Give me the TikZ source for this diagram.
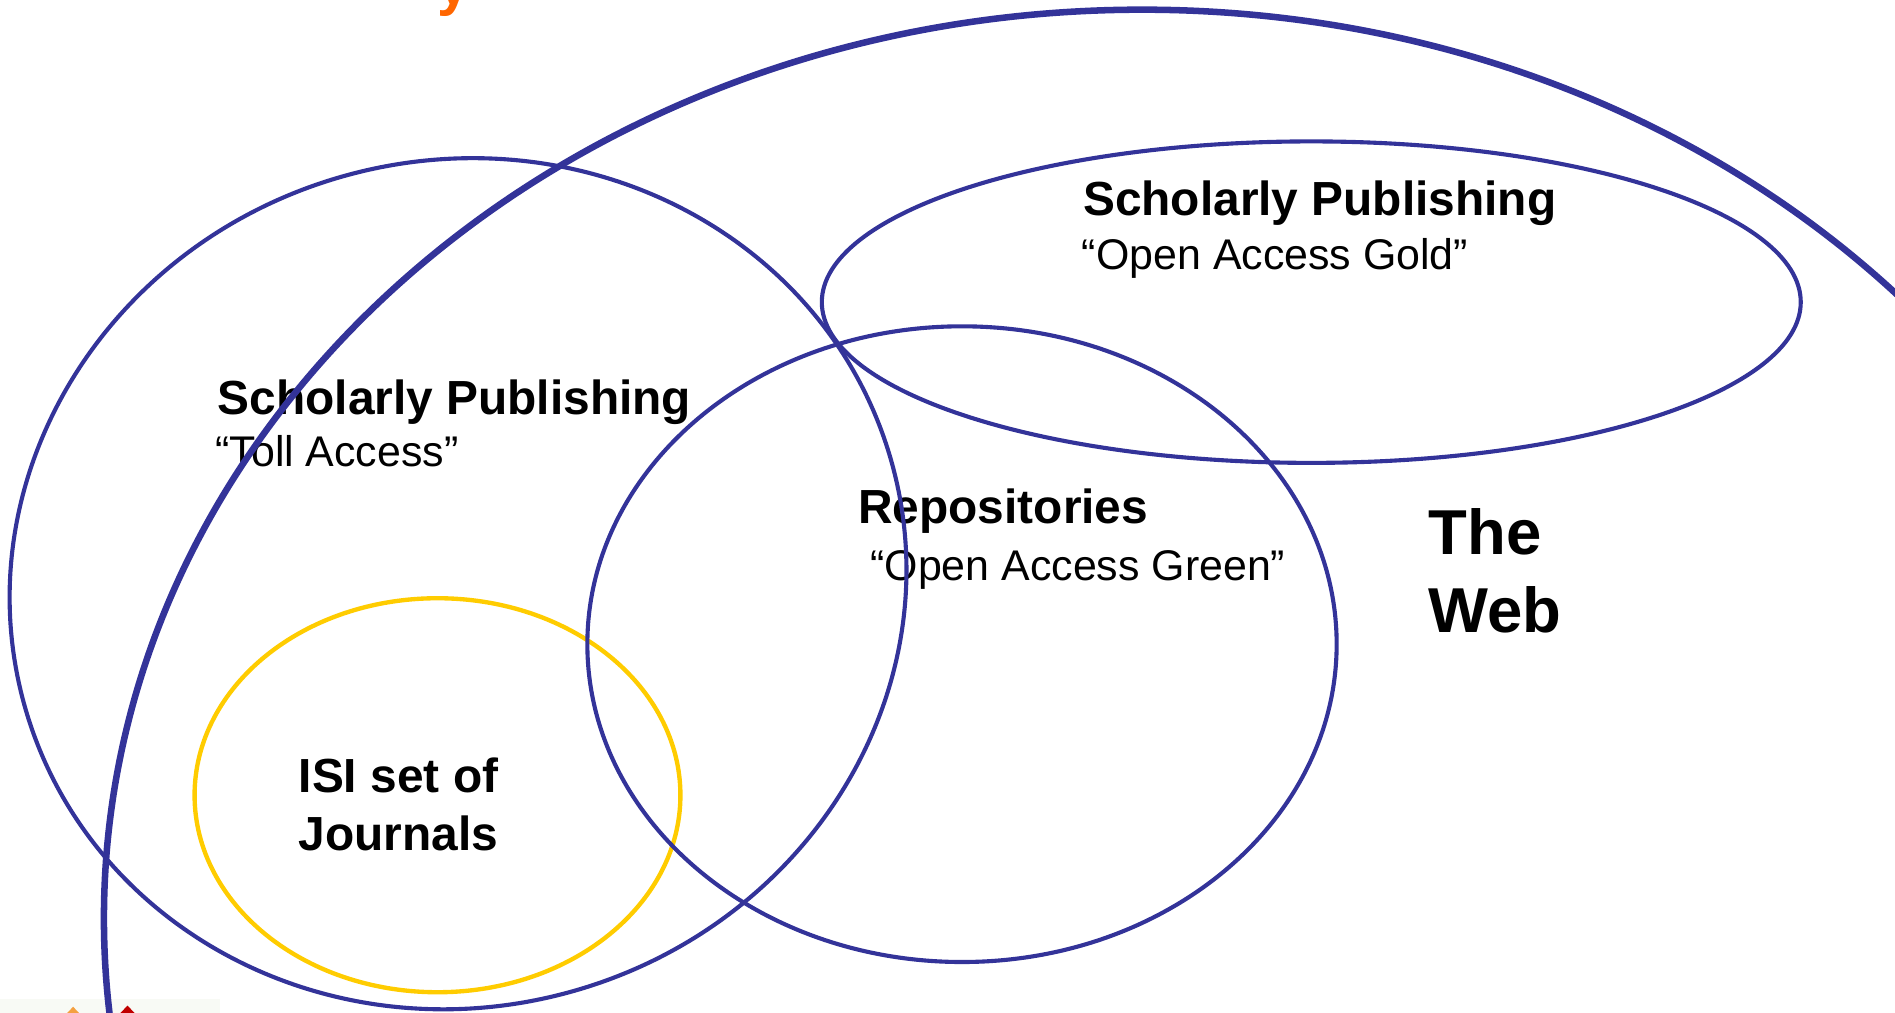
\documentclass[tikz,border=0pt]{standalone}
\usepackage{fontspec}
\setmainfont{Liberation Sans}
\definecolor{webblue}{HTML}{333399}
\definecolor{isiyellow}{HTML}{FFCC00}
\definecolor{titleorange}{HTML}{FF6600}
\definecolor{tiporange}{HTML}{F4A040}
\definecolor{tipred}{HTML}{C00000}
\definecolor{bgfaint}{HTML}{F8FAF5}
\begin{document}
\begin{tikzpicture}[x=1pt,y=-1pt,
  ring/.style={draw=webblue, line width=3.4pt},
  webring/.style={draw=webblue, line width=5.4pt},
  isiring/.style={draw=isiyellow, line width=3.6pt},
  title/.style={font=\fontsize{39.6}{47}\selectfont\bfseries, inner sep=0pt, anchor=base west},
  sub/.style={font=\fontsize{35.5}{42}\selectfont, inner sep=0pt, anchor=base west},
  big/.style={font=\fontsize{52.5}{63}\selectfont\bfseries, inner sep=0pt, anchor=base west}]
\useasboundingbox (0,0) rectangle (1568,838);
\clip (0,0) rectangle (1568,838);
\fill[bgfaint] (0,827) rectangle (182,838);
\fill[tiporange] (60.5,833) -- (68,841) -- (60.5,849) -- (53,841) -- cycle;
\fill[tipred] (105.5,832) -- (113,840) -- (105.5,848) -- (98,840) -- cycle;
\node[font=\fontsize{48}{48}\selectfont\bfseries, text=titleorange, inner sep=0pt, anchor=base west] (ttl) at (362,4) {y};
% texts
\node[title] (goldT) at (896,178) {Scholarly Publishing};
\node[sub] (goldS) at (895,223) {“Open Access Gold”};
\node[title] (tollT) at (180,343) {Scholarly Publishing};
\node[sub] (tollS) at (178,386) {“Toll Access”};
\node[title] (repT) at (710,433) {Repositories};
\node[sub] (repS) at (720,480) {“Open Access Green”};
\node[big] (the) at (1182,459) {The};
\node[big] (web) at (1182,523) {Web};
\node[title] (isi1) at (247,656) {ISI set of};
\node[title] (isi2) at (247,704) {Journals};
% rings
\draw[isiring] (362,658) ellipse [x radius=201pt, y radius=163pt];
\draw[ring, rotate around={16:(379,483)}] (379,483) ellipse [x radius=372.6pt, y radius=350.3pt];
\draw[ring] (1085,250) ellipse [x radius=405pt, y radius=133pt];
\draw[ring] (796,533) ellipse [x radius=310pt, y radius=263pt];
\draw[webring] (945,760) ellipse [x radius=859pt, y radius=752pt];
\end{tikzpicture}
\end{document}
